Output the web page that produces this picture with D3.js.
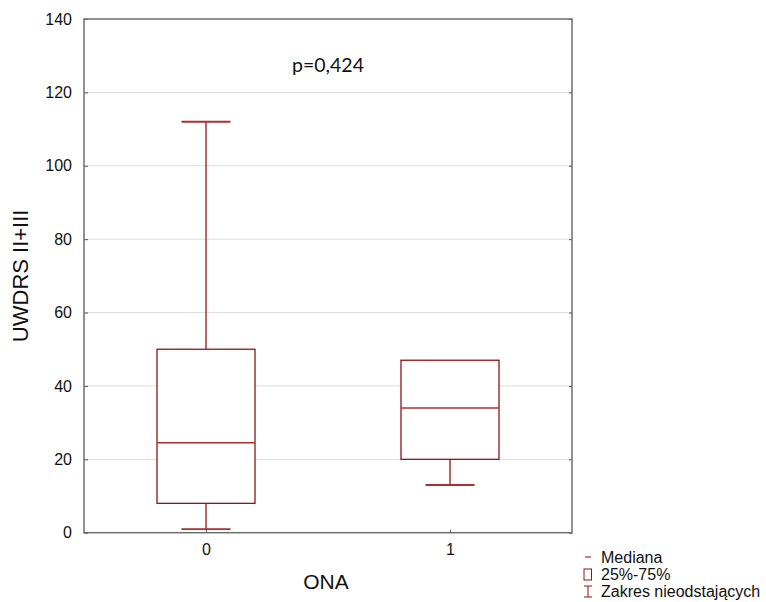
<!DOCTYPE html>
<html><head><meta charset="utf-8">
<script src="https://cdn.jsdelivr.net/npm/d3@7"></script>
<style>body{margin:0;background:#fff}svg{display:block}</style>
</head><body>
<svg id="c" width="766" height="602"></svg>
<script>
const categories = ["0", "1"];
const whiskerLow = [1, 13];
const q1 = [8, 20];
const median = [24.5, 34];
const q3 = [50, 47];
const whiskerHigh = [112, 47];
const yTicks = [0, 20, 40, 60, 80, 100, 120, 140];
const yTitle = "UWDRS II+III";
const xTitle = "ONA";
const annotation = "p=0,424";
const legendLabels = ["Mediana", "25%-75%", "Zakres nieodstających"];

const svg = d3.select("#c");
const m = {l: 84, r: 572, t: 19, b: 532.7};
const x = d3.scalePoint().domain(categories).range([m.l, m.r]).padding(0.5);
const y = d3.scaleLinear().domain([0, 140]).range([m.b, m.t]);
const font = "Liberation Sans, Arial, sans-serif";
const boxC = "#8f1414", whC = "#b55555";

// gridlines
svg.append("g").selectAll("line").data(yTicks.filter(d => d > 0 && d < 140)).join("line")
  .attr("x1", m.l).attr("x2", m.r).attr("y1", d => y(d)).attr("y2", d => y(d))
  .attr("stroke", "#dcdcdc").attr("stroke-width", 1);

// axes
const ya = svg.append("g").attr("transform", `translate(${m.l},0)`)
  .call(d3.axisLeft(y).tickValues(yTicks).tickSize(-4).tickPadding(12));
ya.select(".domain").remove();
ya.selectAll("line").attr("stroke", "#555");
ya.selectAll("text").attr("font-family", font).attr("font-size", 16).attr("fill", "#111");
const yr = svg.append("g").attr("transform", `translate(${m.r},0)`)
  .call(d3.axisRight(y).tickValues(yTicks).tickSize(-3).tickFormat(""));
yr.select(".domain").remove();
yr.selectAll("line").attr("stroke", "#555");
const xa = svg.append("g").attr("transform", `translate(0,${m.b})`)
  .call(d3.axisBottom(x).tickSize(-3).tickPadding(11));
xa.select(".domain").remove();
xa.selectAll("line").attr("stroke", "#555");
xa.selectAll("text").attr("font-family", font).attr("font-size", 16).attr("fill", "#111");

// frame
svg.append("rect").attr("x", m.l).attr("y", m.t).attr("width", m.r - m.l).attr("height", m.b - m.t)
  .attr("fill", "none").attr("stroke", "#6e6e6e").attr("stroke-width", 1.5);

// boxes
const bw = 98;
const g = svg.append("g");
categories.forEach((c, i) => {
  const cx = x(c);
  g.append("line").attr("x1", cx).attr("x2", cx).attr("y1", y(q3[i])).attr("y2", y(whiskerHigh[i]))
    .attr("stroke", whC).attr("stroke-width", 1.8);
  g.append("line").attr("x1", cx).attr("x2", cx).attr("y1", y(q1[i])).attr("y2", y(whiskerLow[i]))
    .attr("stroke", whC).attr("stroke-width", 1.8);
  if (whiskerHigh[i] > q3[i])
    g.append("line").attr("x1", cx - bw / 4).attr("x2", cx + bw / 4).attr("y1", y(whiskerHigh[i])).attr("y2", y(whiskerHigh[i]))
      .attr("stroke", "#a83030").attr("stroke-width", 1.8);
  g.append("line").attr("x1", cx - bw / 4).attr("x2", cx + bw / 4).attr("y1", y(whiskerLow[i])).attr("y2", y(whiskerLow[i]))
    .attr("stroke", "#a83030").attr("stroke-width", 1.8);
  g.append("rect").attr("x", cx - bw / 2).attr("y", y(q3[i])).attr("width", bw).attr("height", y(q1[i]) - y(q3[i]))
    .attr("fill", "#fff").attr("stroke", boxC).attr("stroke-width", 1.3);
  g.append("line").attr("x1", cx - bw / 2).attr("x2", cx + bw / 2).attr("y1", y(median[i])).attr("y2", y(median[i]))
    .attr("stroke", "#a83030").attr("stroke-width", 1.6);
});

// annotation
svg.append("text").attr("x", 328).attr("y", 72).attr("text-anchor", "middle")
  .attr("font-family", "Lato, Open Sans, sans-serif").attr("font-size", 19.5).attr("fill", "#111").text(annotation);

// titles
svg.append("text").attr("x", 326).attr("y", 589).attr("text-anchor", "middle")
  .attr("font-family", font).attr("font-size", 21).attr("fill", "#111").text(xTitle);
svg.append("text").attr("transform", `translate(28,${(m.t + m.b) / 2}) rotate(-90)`).attr("text-anchor", "middle")
  .attr("font-family", font).attr("font-size", 22).attr("fill", "#111").text(yTitle);

// legend
const lx = 584, ly = [563, 580, 597];
const lg = svg.append("g");
lg.append("line").attr("x1", lx + 1).attr("x2", lx + 7).attr("y1", ly[0] - 6).attr("y2", ly[0] - 6).attr("stroke", "#c06060").attr("stroke-width", 1.6);
lg.append("rect").attr("x", lx).attr("y", ly[1] - 11).attr("width", 7.5).attr("height", 11).attr("fill", "none").attr("stroke", boxC).attr("stroke-width", 1);
lg.append("line").attr("x1", lx).attr("x2", lx + 8).attr("y1", ly[2] - 11).attr("y2", ly[2] - 11).attr("stroke", boxC).attr("stroke-width", 1);
lg.append("line").attr("x1", lx + 4).attr("x2", lx + 4).attr("y1", ly[2] - 11).attr("y2", ly[2]).attr("stroke", boxC).attr("stroke-width", 1);
lg.append("line").attr("x1", lx).attr("x2", lx + 8).attr("y1", ly[2]).attr("y2", ly[2]).attr("stroke", boxC).attr("stroke-width", 1);
lg.selectAll("text").data(legendLabels).join("text")
  .attr("x", 601).attr("y", (d, i) => ly[i])
  .attr("font-family", font).attr("font-size", 16).attr("fill", "#111").text(d => d);
</script>
</body></html>
